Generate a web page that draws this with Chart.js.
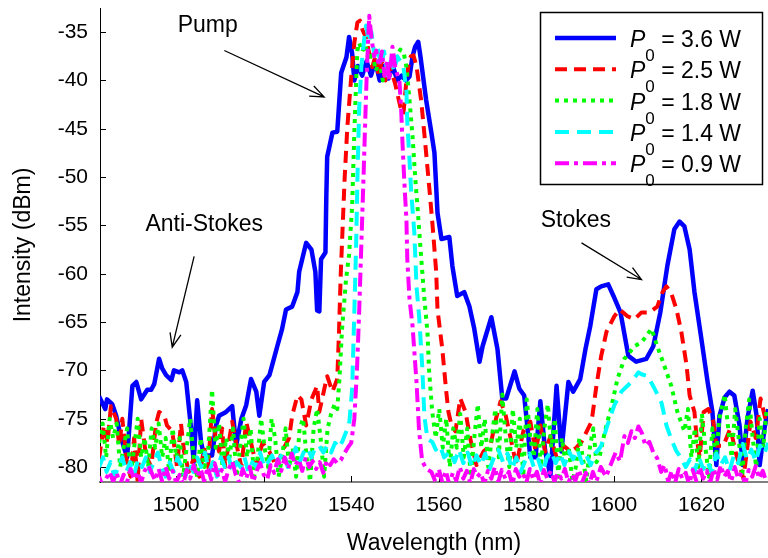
<!DOCTYPE html>
<html>
<head>
<meta charset="utf-8">
<title>Raman spectra</title>
<script src="https://cdn.jsdelivr.net/npm/chart.js@4.4.0/dist/chart.umd.min.js"></script>
<style>
  html, body { margin: 0; padding: 0; background: #fff; }
</style>
</head>
<body>
<canvas id="spec" width="768" height="558"></canvas>
<script>
// ---- data (wavelength nm, intensity dBm) ----
const powers = ['3.6', '2.5', '1.8', '1.4', '0.9'];

const p36 = [
  [1482.4,-72.7],[1483.8,-74],[1484.2,-73],[1485.4,-73.5],[1486.3,-74.7],[1487.4,-77],[1488.8,-79],
  [1490.0,-71.6],[1490.9,-71.2],[1492.0,-73],[1493.4,-72],[1494.3,-72],[1495.0,-71.4],[1496.1,-68.8],
  [1496.8,-69.8],[1497.7,-70.5],[1498.9,-71],[1499.5,-70],[1500.7,-70.2],[1501.4,-70],[1502.3,-71.2],
  [1503.4,-76],[1504.0,-79.5],[1504.8,-73.1],[1505.7,-77.5],[1506.4,-78.8],[1508.2,-78.8],[1509.1,-75.7],
  [1509.8,-74.7],[1511.4,-74.3],[1512.8,-73.7],[1513.7,-77.8],[1514.9,-75],[1516.0,-73.6],[1517.1,-70.9],
  [1518.3,-72.2],[1519.0,-74.7],[1520.1,-71.2],[1521.3,-70.5],[1521.9,-69.5],[1523.1,-67.5],[1524.2,-65.7],
  [1525.1,-63.7],[1526.5,-63.4],[1527.7,-61.9],[1528.1,-59.8],[1529.7,-56.8],[1530.9,-57.5],[1531.8,-59.8],
  [1532.2,-63.8],[1532.7,-63.9],[1533.1,-58.5],[1534.1,-57.8],[1534.3,-52],[1534.5,-47.9],[1535.7,-45.4],
  [1536.8,-45.3],[1537.7,-39.2],[1538.9,-37.6],[1539.5,-35.5],[1540.2,-37.2],[1540.7,-40],[1541.5,-38.5],
  [1542.5,-39.5],[1543.5,-38],[1544.5,-39.5],[1545.5,-38],[1546.5,-40],[1547.5,-38.5],[1548.5,-39.8],
  [1549.5,-38.5],[1550.5,-40],[1551.5,-39.5],[1552.5,-40],[1553.3,-39.6],[1554.0,-37.5],[1554.6,-36.5],
  [1555.3,-36],[1555.8,-37.5],[1557.1,-42],[1558.3,-45.4],[1559.0,-47.5],[1559.7,-53.7],[1560.6,-56.4],
  [1562.4,-56.2],[1563.1,-59.2],[1564.2,-62.3],[1565.8,-61.9],[1567.0,-63.4],[1568.1,-65.7],[1569.3,-69.1],
  [1570.0,-67.5],[1572.0,-64.5],[1573.4,-67.8],[1574.5,-72.9],[1575.4,-72.9],[1577.3,-70.1],[1578.4,-71.9],
  [1579.5,-72.6],[1580.2,-75.7],[1580.9,-79],[1582.1,-79],[1583.2,-73.2],[1584.3,-78.4],[1585.5,-80.9],
  [1586.9,-71.6],[1588.0,-78.4],[1589.6,-71.2],[1590.7,-72.2],[1592.3,-70.9],[1593.5,-67.8],[1594.6,-65.4],
  [1596.0,-61.6],[1597.1,-61.3],[1598.7,-61.1],[1599.9,-62.3],[1601.5,-64],[1603.3,-68.5],[1605.1,-69.1],
  [1607.4,-68.8],[1609.0,-67.5],[1610.6,-64],[1612.2,-59.2],[1613.8,-55.4],[1615.0,-54.6],[1616.1,-55.1],
  [1617.3,-57.5],[1618.4,-61.9],[1620.0,-66.8],[1621.4,-71.2],[1622.5,-74.3],[1623.4,-79.8],[1624.1,-74.7],
  [1625.3,-72.8],[1626.4,-72.2],[1627.5,-72.6],[1628.7,-75.7],[1629.4,-79.8],[1630.5,-75],[1631.7,-72.1],
  [1632.6,-74.7],[1633.3,-79.8],[1634.4,-76],[1635.2,-74]
];

const p25 = [
  [1482.4,-79.1],[1483.5,-75.7],[1484.3,-77.5],[1485.1,-73.7],[1486.3,-75],[1487.0,-77.8],[1487.7,-75],
  [1488.8,-79.8],[1489.6,-81],[1490.4,-77],[1491.2,-81.5],[1492.0,-75],[1493.1,-78.8],[1494.3,-80],
  [1495.4,-75.5],[1496.1,-74.3],[1497.3,-74.7],[1497.9,-75.7],[1499.1,-76.3],[1500.2,-80],[1501.1,-75.5],
  [1501.8,-78.4],[1502.9,-80.5],[1504.1,-79],[1505.3,-81],[1506.4,-78],[1507.3,-80],[1508.2,-74],
  [1509.0,-77],[1509.8,-78.4],[1510.5,-76],[1511.2,-80],[1512.0,-77.5],[1512.8,-75.3],[1513.7,-77.5],
  [1514.9,-80],[1516.0,-75.3],[1517.1,-77.5],[1518.3,-79.8],[1519.7,-77.5],[1521.3,-78.4],[1522.9,-80],
  [1524.2,-78.4],[1525.8,-77],[1526.5,-74.7],[1527.7,-72.6],[1528.6,-73],[1529.7,-75.7],[1530.9,-73],
  [1532.2,-71.6],[1532.7,-74.3],[1533.8,-72],[1534.5,-70.6],[1535.7,-72.2],[1536.8,-70.9],[1537.2,-66],
  [1537.6,-60],[1538.0,-55.5],[1538.5,-50],[1539.1,-44.8],[1540.0,-39.6],[1540.7,-36.1],[1541.4,-34],
  [1542.0,-33.8],[1542.6,-34.8],[1543.3,-35.5],[1544.0,-37],[1544.8,-38.6],[1545.5,-37.5],[1546.3,-39.5],
  [1547.0,-38],[1547.8,-40],[1548.5,-38.5],[1549.3,-39.2],[1550.0,-40.3],[1550.6,-41.5],[1551.2,-42.7],
  [1551.9,-43.5],[1552.5,-40.5],[1553.0,-38.6],[1553.6,-37.5],[1554.2,-37.4],[1554.9,-38.5],[1556.0,-42.2],
  [1556.9,-46.5],[1558.1,-52.5],[1558.7,-55.7],[1559.4,-59.8],[1559.7,-63.7],[1560.8,-67.8],[1561.7,-72.2],
  [1562.2,-74.3],[1562.9,-75.7],[1563.8,-76.3],[1564.9,-72.9],[1566.1,-74.3],[1567.2,-77.1],[1568.6,-79.8],
  [1570.2,-78.4],[1571.8,-77.8],[1572.9,-75.3],[1574.1,-73.2],[1575.2,-74.5],[1576.3,-76.8],[1577.7,-79.8],
  [1579.3,-76.3],[1580.9,-75.3],[1582.1,-78.4],[1583.2,-75.7],[1584.3,-78.4],[1585.5,-76.8],[1586.9,-79],
  [1588.5,-77.8],[1590.1,-78.4],[1591.4,-78],[1592.6,-77.4],[1594.9,-75.3],[1596.0,-71.6],[1597.1,-68.5],
  [1598.3,-66],[1600.1,-64.4],[1601.3,-63.7],[1603.1,-64.4],[1604.7,-64.7],[1606.3,-64],[1608.1,-64],
  [1609.9,-63.4],[1611.1,-61.9],[1612.0,-61.3],[1613.1,-62],[1614.3,-63.7],[1615.4,-66],[1616.6,-69.5],
  [1617.3,-72.6],[1618.4,-74.3],[1618.9,-77],[1619.6,-79],[1620.5,-74.3],[1621.6,-74],[1622.7,-75.3],
  [1623.4,-77.8],[1625.0,-77.8],[1626.6,-76],[1628.0,-78.8],[1629.6,-81.2],[1631.2,-75.3],[1632.4,-77],
  [1633.5,-72.9],[1634.6,-75]
];

const p18 = [
  [1482.4,-77.5],[1483.2,-75.5],[1484.0,-79],[1484.8,-75],[1485.6,-77],[1486.4,-75.5],[1487.2,-80],
  [1488.0,-78],[1488.8,-76],[1489.6,-81],[1490.4,-78],[1491.2,-75],[1492.0,-79],[1492.8,-77],[1493.6,-80],
  [1494.4,-76],[1495.2,-78],[1496.0,-75.5],[1496.8,-79],[1497.6,-77],[1498.4,-80.5],[1499.2,-76],
  [1500.0,-79],[1500.8,-77],[1501.6,-81],[1502.4,-78],[1503.2,-75],[1504.0,-79],[1504.8,-81],[1505.6,-77],
  [1506.4,-80],[1507.2,-79],[1508.2,-72],[1509.0,-78],[1509.8,-75.5],[1510.6,-80],[1511.4,-77],
  [1512.2,-79],[1513.0,-76],[1513.8,-81],[1514.6,-78],[1515.4,-75],[1516.2,-79],[1517.0,-76],[1517.8,-81],
  [1518.6,-79],[1519.4,-75],[1520.2,-78],[1521.0,-80],[1521.8,-75],[1522.6,-77],[1523.4,-81],[1524.2,-79],
  [1525.0,-76],[1525.8,-80],[1526.6,-78],[1527.4,-81],[1528.2,-76],[1529.0,-75],[1529.8,-79],[1530.6,-81.5],
  [1531.4,-76],[1532.2,-74],[1533.0,-77],[1533.8,-81],[1534.6,-76],[1535.4,-74.5],[1536.2,-73.5],
  [1536.8,-74],[1537.3,-70.9],[1537.9,-65.7],[1538.8,-60.6],[1539.5,-58],[1540.2,-53],[1540.7,-45.4],
  [1541.1,-40.3],[1541.4,-36.9],[1541.8,-36.1],[1542.5,-37],[1543.2,-36.3],[1544.0,-38],[1544.8,-37],
  [1545.6,-39],[1546.4,-38],[1547.2,-40],[1548.0,-38.5],[1548.8,-39.5],[1549.6,-38],[1550.4,-37.5],
  [1551.2,-36.8],[1552.0,-37.2],[1552.6,-38.6],[1553.3,-42],[1554.0,-45.8],[1554.6,-50],[1555.2,-53.5],
  [1556.0,-58.5],[1556.7,-62.6],[1557.4,-66],[1557.8,-70.2],[1558.5,-74.3],[1559.3,-77],[1560.1,-74],
  [1560.9,-78],[1561.7,-75],[1562.5,-80],[1563.3,-76],[1564.1,-78],[1564.9,-74.5],[1565.7,-79],
  [1566.5,-76],[1567.3,-81],[1568.1,-77],[1568.9,-73.5],[1569.7,-78],[1570.5,-75],[1571.3,-80],
  [1572.1,-77],[1572.9,-74],[1573.7,-79],[1574.5,-72.5],[1575.3,-77],[1576.1,-80],[1576.9,-74],
  [1577.7,-78],[1578.5,-75],[1579.3,-81],[1580.1,-73],[1580.9,-77],[1581.7,-79],[1582.5,-74],[1583.3,-80],
  [1584.1,-76],[1584.9,-73.5],[1585.7,-78],[1586.5,-75],[1587.3,-81],[1588.1,-77],[1588.9,-79.5],
  [1589.7,-78],[1590.5,-81.5],[1591.3,-80],[1592.1,-77],[1592.9,-79],[1593.7,-81.5],[1594.5,-78],
  [1595.3,-76],[1596.0,-79.5],[1596.7,-79],[1597.6,-77],[1598.4,-75.5],[1599.3,-74],[1600.8,-70.9],
  [1602.4,-68.8],[1604.7,-67.5],[1606.3,-67.1],[1607.3,-66.5],[1608.1,-66],[1608.6,-65.7],[1609.9,-67.5],
  [1611.5,-69.5],[1613.1,-71.6],[1614.5,-74.3],[1616.1,-76.3],[1616.9,-74],[1617.7,-79],[1618.5,-76],
  [1619.3,-80],[1620.1,-74.5],[1620.9,-78],[1621.7,-81],[1622.5,-76],[1623.3,-79],[1624.1,-75],
  [1625.3,-72.5],[1626.1,-76],[1626.9,-79],[1627.7,-74],[1628.5,-77],[1629.3,-81],[1630.1,-76],
  [1630.9,-73],[1631.7,-77],[1632.5,-80],[1633.3,-75],[1634.1,-78],[1634.9,-74]
];

const p14 = [
  [1482.4,-80],[1483.3,-79],[1484.1,-80.5],[1485.0,-79.5],[1485.9,-81],[1486.8,-80],[1487.7,-79],
  [1488.6,-80.5],[1489.5,-79.5],[1490.4,-80.8],[1491.3,-79.2],[1492.2,-80],[1493.1,-79],[1494.0,-80.5],
  [1494.9,-79.5],[1495.8,-78.5],[1496.7,-80],[1497.6,-81],[1498.5,-79.5],[1499.4,-80.5],[1500.3,-79],
  [1501.2,-80],[1502.1,-81],[1503.0,-79.5],[1503.9,-80.5],[1504.8,-79],[1505.7,-80],[1506.6,-78.5],
  [1507.5,-80.5],[1508.4,-79.5],[1509.3,-81],[1510.2,-79],[1511.1,-80],[1512.0,-79],[1512.9,-80.5],
  [1513.8,-79.5],[1514.7,-80],[1515.6,-79],[1516.5,-80.5],[1517.4,-79.5],[1518.3,-80],[1519.2,-78.5],
  [1520.1,-80],[1521.0,-79.5],[1521.9,-78.8],[1522.8,-80],[1523.7,-79],[1524.6,-78.5],[1525.5,-80],
  [1526.4,-79],[1527.3,-78],[1528.2,-79.5],[1529.1,-78.5],[1530.0,-78],[1530.9,-79],[1531.8,-78],
  [1532.7,-77.8],[1533.6,-78.5],[1534.5,-77.8],[1535.4,-78.5],[1536.3,-77.5],[1537.2,-78],[1537.9,-77.4],
  [1538.7,-76.5],[1539.5,-75.7],[1540.2,-71.9],[1540.7,-64],[1541.1,-57.2],[1541.4,-50.3],[1541.8,-43],
  [1542.3,-38.6],[1543.0,-35.5],[1543.4,-34.3],[1544.0,-36],[1544.6,-35],[1545.3,-37.5],[1546.0,-36.5],
  [1546.8,-38.5],[1547.5,-37],[1548.3,-39.5],[1549.0,-38],[1549.8,-39],[1550.5,-37.5],[1551.2,-38],
  [1551.9,-38.5],[1552.6,-41.1],[1552.8,-44.3],[1553.3,-48.2],[1553.7,-51.6],[1554.4,-55.7],[1554.9,-61.3],
  [1555.5,-64.4],[1556.2,-69.5],[1556.7,-74.7],[1557.4,-77.1],[1558.5,-77.4],[1559.3,-78.2],[1560.3,-77.8],
  [1561.2,-79],[1562.6,-78.4],[1563.6,-79.5],[1564.6,-78.2],[1565.6,-79.6],[1566.6,-78.5],[1567.6,-80],
  [1568.6,-78.8],[1569.6,-79.8],[1570.6,-78.6],[1571.6,-80.2],[1572.6,-79],[1573.6,-78.2],[1574.7,-79.5],
  [1575.7,-78.6],[1576.7,-80.2],[1577.7,-79],[1578.7,-80.5],[1579.7,-79.4],[1580.7,-78.6],[1581.7,-80],
  [1582.7,-79.2],[1583.7,-80.6],[1584.7,-79],[1585.7,-78.4],[1586.7,-79.6],[1587.7,-78.6],[1588.7,-79.8],
  [1589.7,-78.4],[1590.7,-79.2],[1591.7,-78.2],[1592.7,-79.6],[1593.7,-78.8],[1594.7,-79.8],[1595.7,-78.6],
  [1596.5,-78.2],[1597.1,-77.8],[1598.5,-75.7],[1600.1,-73.6],[1601.7,-72.2],[1604.0,-71.2],[1605.6,-70.2],
  [1606.3,-70.4],[1607.7,-70.6],[1609.3,-71.9],[1610.9,-73.4],[1612.0,-75.7],[1613.1,-77.1],[1614.2,-78.3],
  [1615.4,-79.1],[1616.4,-80],[1617.4,-79.2],[1618.4,-80.5],[1619.4,-79],[1620.4,-80.2],[1621.4,-79.4],
  [1622.4,-80.6],[1623.4,-78.6],[1624.4,-79.8],[1625.4,-79],[1626.4,-80.4],[1627.4,-78.8],[1628.4,-79.6],
  [1629.4,-77.6],[1630.4,-79.2],[1631.4,-78.2],[1632.4,-79.4],[1633.4,-77.8],[1634.4,-78.6],[1635.2,-77.5]
];

const p09 = [
  [1482.4,-81],[1483.2,-82],[1484.0,-81.2],[1484.8,-80.5],[1485.6,-81.5],[1486.4,-80.6],[1487.2,-81.8],
  [1488.0,-80.8],[1488.8,-81.5],[1489.6,-80.2],[1490.4,-81.3],[1491.2,-80.5],[1492.0,-81.6],[1492.8,-80.4],
  [1493.6,-79.8],[1494.4,-80.6],[1495.2,-81.4],[1496.0,-80.2],[1496.8,-81.5],[1497.6,-80],[1498.4,-81.2],
  [1499.2,-80.4],[1500.0,-81.6],[1500.8,-80.8],[1501.6,-81.8],[1502.4,-80.3],[1503.2,-81.2],[1504.0,-79.8],
  [1504.8,-81],[1505.6,-80.2],[1506.4,-81.5],[1507.2,-80],[1508.0,-81.3],[1508.8,-79.6],[1509.6,-81],
  [1510.4,-80.3],[1511.2,-81.5],[1512.0,-80.2],[1512.8,-79.4],[1513.6,-80.8],[1514.4,-81.6],[1515.2,-80.2],
  [1516.0,-81.2],[1516.8,-80],[1517.6,-81.5],[1518.4,-80.4],[1519.2,-79.6],[1520.0,-80.8],[1520.8,-81.3],
  [1521.6,-79.8],[1522.4,-80.6],[1523.2,-79.2],[1524.0,-80.4],[1524.8,-79],[1525.6,-80.2],[1526.4,-78.6],
  [1527.2,-79.8],[1528.0,-79.2],[1528.8,-80.4],[1529.6,-79],[1530.4,-80],[1531.2,-79.4],[1532.0,-80.2],
  [1532.8,-79.5],[1533.6,-80.6],[1534.4,-79.3],[1535.2,-79.8],[1536.0,-79.2],[1536.8,-79.6],[1537.6,-79.3],
  [1538.4,-78.6],[1539.2,-78],[1540.0,-77.5],[1540.7,-75],[1541.3,-70],[1541.8,-64],[1542.3,-57],
  [1542.8,-50],[1543.2,-44],[1543.6,-38.5],[1544.1,-33.3],[1544.6,-35.5],[1545.2,-37.5],[1545.7,-36.9],
  [1546.3,-38.5],[1547.0,-37],[1547.6,-39.5],[1548.2,-38],[1548.7,-40],[1549.4,-36.5],[1550.0,-38.5],
  [1550.6,-39.5],[1551.0,-40],[1551.4,-43],[1551.7,-46.4],[1552.1,-50.3],[1552.6,-54.4],[1552.8,-58.5],
  [1553.3,-62.6],[1554.0,-65.4],[1554.9,-71.2],[1555.5,-76.3],[1556.2,-79.4],[1557.2,-80.2],[1558.3,-80.5],
  [1559.2,-81.5],[1560.0,-80.2],[1560.8,-81.6],[1561.6,-80.4],[1562.4,-81.8],[1563.2,-80.6],[1564.0,-81.4],
  [1564.8,-80],[1565.6,-81.2],[1566.4,-80.4],[1567.2,-81.7],[1568.0,-80.2],[1568.8,-81],[1569.6,-80.6],
  [1570.4,-81.8],[1571.2,-80.4],[1572.0,-81.2],[1572.8,-80],[1573.6,-81.5],[1574.4,-80.3],[1575.2,-81.2],
  [1576.0,-80.5],[1576.8,-81.8],[1577.6,-80.2],[1578.4,-81],[1579.2,-80.6],[1580.0,-81.6],[1580.8,-80.2],
  [1581.6,-81.3],[1582.4,-80.5],[1583.2,-81.8],[1584.0,-80.3],[1584.8,-81.2],[1585.6,-80.4],[1586.4,-81.5],
  [1587.2,-80.6],[1588.0,-81.2],[1588.8,-80.2],[1589.6,-81.6],[1590.4,-80.8],[1591.2,-81.4],[1592.0,-80.3],
  [1592.8,-81.5],[1593.6,-80.6],[1594.4,-81.8],[1595.2,-80.5],[1596.0,-81.5],[1597.0,-80],[1598.2,-81],
  [1599.4,-79.6],[1600.4,-78.5],[1601.4,-79.4],[1602.4,-76.8],[1603.2,-77.5],[1604.0,-76.3],[1604.8,-77],
  [1605.6,-75.8],[1606.4,-76.5],[1607.2,-77.8],[1608.1,-77.4],[1609.0,-78.5],[1609.9,-79.1],[1610.8,-80.5],
  [1611.6,-79.8],[1612.4,-81.5],[1613.2,-80.4],[1614.0,-81.6],[1614.8,-80.2],[1615.6,-81.2],[1616.4,-80.6],
  [1617.2,-81.8],[1618.0,-80.3],[1618.8,-81.4],[1619.6,-80],[1620.4,-81.2],[1621.2,-80.4],[1622.0,-81.6],
  [1622.8,-80.2],[1623.6,-81.3],[1624.4,-79.8],[1625.2,-81],[1626.0,-80.4],[1626.8,-81.5],[1627.6,-80],
  [1628.4,-81.2],[1629.2,-80.6],[1630.0,-81.8],[1630.8,-80.3],[1631.6,-81],[1632.4,-79.9],[1633.2,-81.2],
  [1634.0,-80.4],[1634.8,-81.5]
];

const xTicks = [1500, 1520, 1540, 1560, 1580, 1600, 1620];
const yTicks = [-80, -75, -70, -65, -60, -55, -50, -45, -40, -35];

// text call-outs, anchored in data units
const notes = [
  { text: 'Pump',        at: [1507.2, -34.3], from: [1511.0, -36.9], to: [1533.8, -41.7] },
  { text: 'Anti-Stokes', at: [1506.4, -54.9], from: [1504.1, -58.2], to: [1499.1, -67.6] },
  { text: 'Stokes',      at: [1591.3, -54.5], from: [1592.6, -56.8], to: [1606.3, -60.6] }
];

// ---- styling ----
const FONT = '"Liberation Sans", Arial, Helvetica, sans-serif';
Chart.defaults.font.family = FONT;
Chart.defaults.color = '#000';

const styles = [
  { color: '#0000ff', dash: [],             width: 4.5 },
  { color: '#ff0000', dash: [12, 7],        width: 4 },
  { color: '#00ff00', dash: [4, 5],         width: 4 },
  { color: '#00ffff', dash: [14, 8],        width: 4 },
  { color: '#ff00ff', dash: [14, 5, 4, 5],  width: 4 }
];
const seriesData = [p36, p25, p18, p14, p09];

const datasets = seriesData.map((pts, i) => ({
  label: 'P0 = ' + powers[i] + ' W',
  data: pts.map(p => ({ x: p[0], y: p[1] })),
  borderColor: styles[i].color,
  borderWidth: styles[i].width,
  borderDash: styles[i].dash,
  borderCapStyle: 'butt',
  borderJoinStyle: 'round',
  pointRadius: 0,
  tension: 0,
  fill: false,
  order: 5 - i,   // blue at the bottom, magenta on top
  clip: { left: 0, top: 5, right: 0, bottom: 0 }
}));

// inward tick marks
const innerTicks = {
  id: 'innerTicks',
  beforeDatasetsDraw(chart) {
    const { ctx, chartArea: a, scales: { x, y } } = chart;
    ctx.save();
    ctx.strokeStyle = '#000';
    ctx.lineWidth = 1;
    ctx.beginPath();
    yTicks.forEach(v => {
      const py = Math.round(y.getPixelForValue(v)) + 0.5;
      ctx.moveTo(a.left, py); ctx.lineTo(a.left + 6, py);
    });
    xTicks.forEach(v => {
      const px = Math.round(x.getPixelForValue(v)) + 0.5;
      ctx.moveTo(px, a.bottom); ctx.lineTo(px, a.bottom - 6);
    });
    ctx.stroke();
    ctx.restore();
  }
};

// arrows + labels
const callouts = {
  id: 'callouts',
  afterDatasetsDraw(chart) {
    const { ctx, scales: { x, y } } = chart;
    ctx.save();
    ctx.fillStyle = '#000';
    ctx.strokeStyle = '#000';
    ctx.lineWidth = 1.3;
    ctx.font = '23px ' + FONT;
    ctx.textAlign = 'center';
    ctx.textBaseline = 'middle';
    notes.forEach(n => {
      ctx.fillText(n.text, x.getPixelForValue(n.at[0]), y.getPixelForValue(n.at[1]));
      const x0 = x.getPixelForValue(n.from[0]), y0 = y.getPixelForValue(n.from[1]);
      const x1 = x.getPixelForValue(n.to[0]), y1 = y.getPixelForValue(n.to[1]);
      const ang = Math.atan2(y1 - y0, x1 - x0);
      ctx.beginPath();
      ctx.moveTo(x0, y0); ctx.lineTo(x1, y1);
      ctx.moveTo(x1 - 15 * Math.cos(ang - 0.38), y1 - 15 * Math.sin(ang - 0.38));
      ctx.lineTo(x1, y1);
      ctx.lineTo(x1 - 15 * Math.cos(ang + 0.38), y1 - 15 * Math.sin(ang + 0.38));
      ctx.stroke();
    });
    ctx.restore();
  }
};

// boxed legend with P_0 subscripts, top right inside the axes
const boxLegend = {
  id: 'boxLegend',
  afterDraw(chart) {
    const { ctx, chartArea: a } = chart;
    const bx = a.right - 228, by = a.top + 4, bw = 222, bh = 172;
    ctx.save();
    ctx.fillStyle = '#fff';
    ctx.fillRect(bx, by, bw, bh);
    ctx.strokeStyle = '#000';
    ctx.lineWidth = 1.5;
    ctx.strokeRect(bx + 0.5, by + 0.5, bw, bh);
    chart.data.datasets.forEach((ds, i) => {
      const ry = by + 26 + i * 31.3;
      ctx.beginPath();
      ctx.setLineDash(ds.borderDash);
      ctx.lineCap = 'butt';
      ctx.strokeStyle = ds.borderColor;
      ctx.lineWidth = ds.borderWidth;
      ctx.moveTo(bx + 15, ry); ctx.lineTo(bx + 76, ry);
      ctx.stroke();
      ctx.setLineDash([]);
      let tx = bx + 90;
      const base = ry + 9;
      ctx.fillStyle = '#000';
      ctx.textAlign = 'left';
      ctx.textBaseline = 'alphabetic';
      ctx.font = 'italic 23px ' + FONT;
      ctx.fillText('P', tx, base);
      tx += ctx.measureText('P').width;
      ctx.font = '17px ' + FONT;
      ctx.fillText('0', tx, base + 14);
      tx += ctx.measureText('0').width;
      ctx.font = '23px ' + FONT;
      ctx.fillText(' = ' + powers[i] + ' W', tx, base);
    });
    ctx.restore();
  }
};

new Chart(document.getElementById('spec'), {
  type: 'line',
  data: { datasets },
  options: {
    responsive: false,
    animation: false,
    events: [],
    layout: { padding: { top: 8, right: 0, left: 0, bottom: 0 } },
    plugins: { legend: { display: false }, tooltip: { enabled: false } },
    scales: {
      x: {
        type: 'linear',
        min: 1482.6,
        max: 1635.2,
        afterBuildTicks: s => { s.ticks = xTicks.map(v => ({ value: v })); },
        afterFit: s => { s.height = 76; s.paddingLeft = 0; s.paddingRight = 0; },
        ticks: { font: { size: 21 }, padding: 11, maxRotation: 0, autoSkip: false, callback: v => String(v) },
        grid: { drawOnChartArea: false, drawTicks: false },
        border: { color: '#808080', width: 2 },
        title: { display: true, text: 'Wavelength (nm)', font: { size: 23 }, padding: { top: 0, bottom: 1 } }
      },
      y: {
        type: 'linear',
        min: -81.55,
        max: -32.5,
        afterBuildTicks: s => { s.ticks = yTicks.map(v => ({ value: v })); },
        afterFit: s => { s.width = 100; s.paddingTop = 0; s.paddingBottom = 0; },
        ticks: { font: { size: 21 }, padding: 12, callback: v => String(v) },
        grid: { drawOnChartArea: false, drawTicks: false },
        border: { color: '#000', width: 1 },
        title: { display: true, text: 'Intensity (dBm)', font: { size: 23 }, padding: { top: 10, bottom: 0 } }
      }
    }
  },
  plugins: [innerTicks, callouts, boxLegend]
});
</script>
</body>
</html>
